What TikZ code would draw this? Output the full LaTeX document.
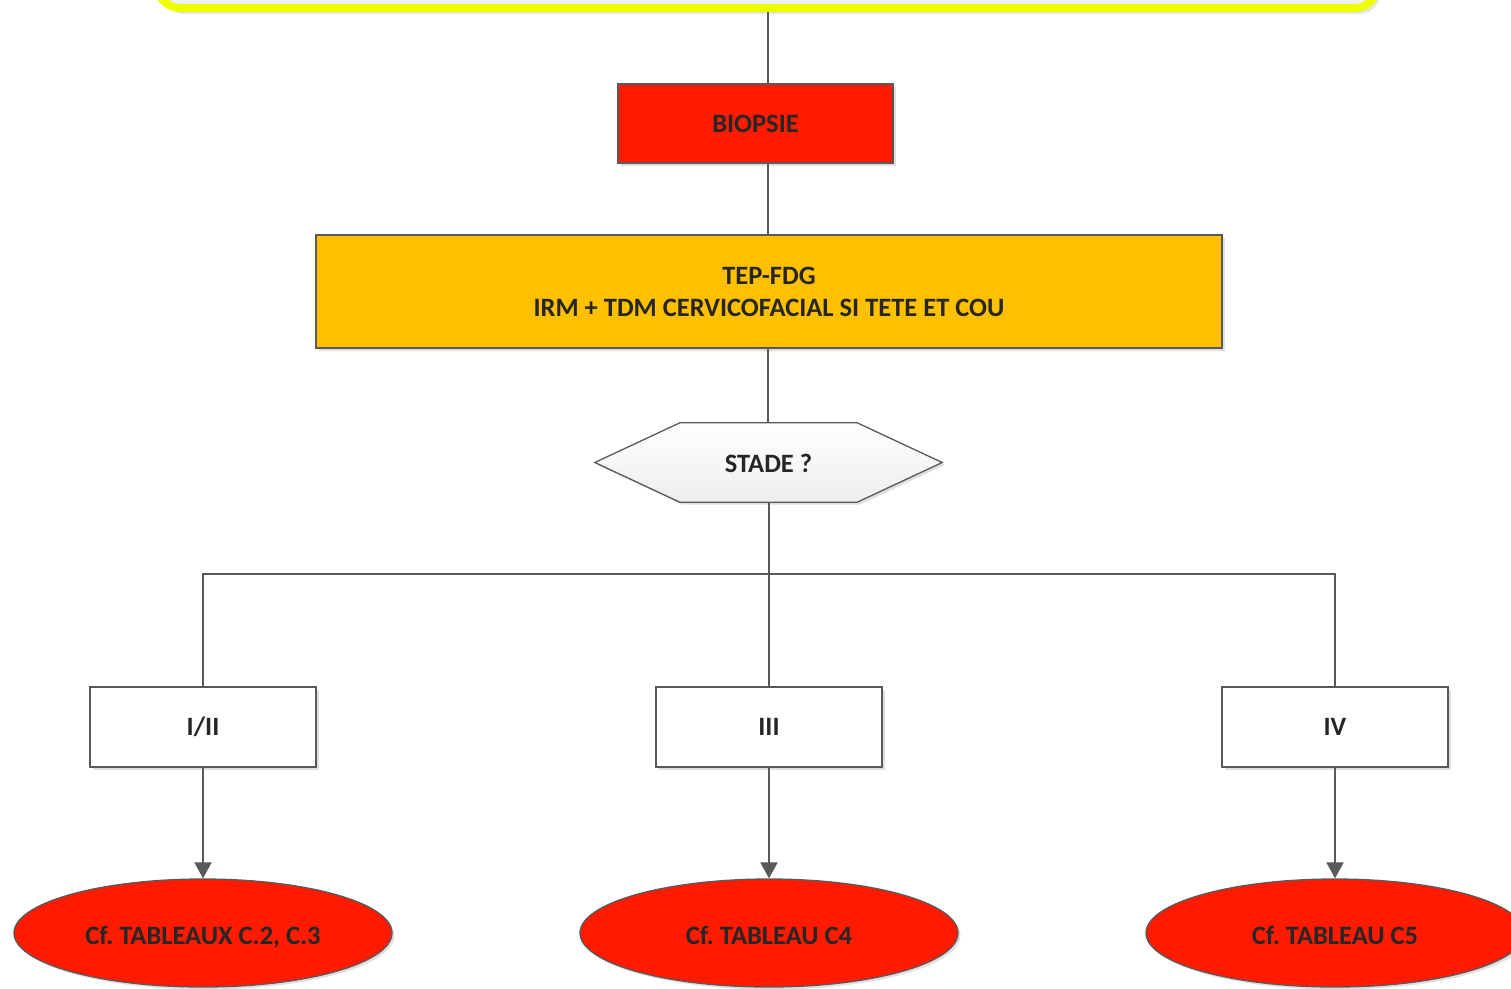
\documentclass[tikz,border=0pt]{standalone}
\usepackage{fontspec}
\setmainfont{Carlito}
\usetikzlibrary{shapes.geometric,arrows.meta,shadows}
\definecolor{redfill}{HTML}{FF1A00}
\definecolor{orangefill}{HTML}{FFC000}
\definecolor{bordergray}{HTML}{595959}
\definecolor{txt}{HTML}{262626}
\definecolor{yellowline}{HTML}{EEFF00}
\begin{document}
\frenchspacing
\begin{tikzpicture}[x=1pt,y=-1pt,
  every node/.style={font=\fontsize{26.5}{32}\selectfont\bfseries, text=txt},
  sh/.style={drop shadow={shadow xshift=2.5pt,shadow yshift=-2.5pt,opacity=0.25,fill=gray}},
  boxnode/.style={draw=bordergray, line width=1.3pt, rectangle, inner sep=0pt, sh},
  oval/.style={draw=bordergray, line width=1.3pt, ellipse, fill=redfill, minimum width=378pt, minimum height=108pt, inner sep=0pt, text height=23pt, text depth=0pt, sh},
  conn/.style={draw=bordergray, line width=2pt},
  arr/.style={conn, -{Triangle[width=17pt,length=16pt]}}
]
\useasboundingbox (0,0) rectangle (1511,988);
% top box (cut off)
\fill[gray, opacity=0.2, rounded corners=22pt] (162,-80) rectangle (1381,14);
\draw[yellowline, line width=8pt, fill=gray!12, rounded corners=22pt] (158,-80) rectangle (1377,8);
\coordinate (yb) at (768,12);

\node[boxnode, fill=redfill, minimum width=275pt, minimum height=79pt] (biopsie) at (755.5,123.5) {BIOPSIE};
\node[boxnode, fill=orangefill, minimum width=906pt, minimum height=113pt, align=center] (tep) at (769,291.5) {TEP-FDG\\IRM + TDM CERVICOFACIAL SI TETE ET COU};

\node[minimum width=347pt, minimum height=79pt, inner sep=0pt] (stade) at (768.5,462.5) {};
\fill[gray, opacity=0.25] ([shift={(2.5,2.5)}]stade.west) -- ([shift={(87.5,2.5)}]stade.north west) -- ([shift={(-82.5,2.5)}]stade.north east) -- ([shift={(2.5,2.5)}]stade.east) -- ([shift={(-82.5,2.5)}]stade.south east) -- ([shift={(87.5,2.5)}]stade.south west) -- cycle;
\draw[bordergray, line width=1.3pt, top color=white, bottom color=gray!14]
  (stade.west) -- ([xshift=85pt]stade.north west) -- ([xshift=-85pt]stade.north east) -- (stade.east) -- ([xshift=-85pt]stade.south east) -- ([xshift=85pt]stade.south west) -- cycle;
\node at ([yshift=-1pt]stade.center) {STADE ?};

\coordinate (hub) at (768.5,574);
\node[boxnode, fill=white, minimum width=226pt, minimum height=80pt] (s12) at (203,727) {I/II};
\node[boxnode, fill=white, minimum width=226pt, minimum height=80pt] (s3) at (769,727) {III};
\node[boxnode, fill=white, minimum width=226pt, minimum height=80pt] (s4) at (1335,727) {IV};

\node[oval] (e12) at (203,933) {Cf. TABLEAUX C.2, C.3};
\node[oval] (e3) at (769,933) {Cf. TABLEAU C4};
\node[oval] (e4) at (1335,933) {Cf. TABLEAU C5};

\draw[conn] (yb) -- (yb |- biopsie.north);
\draw[conn] (biopsie.south -| yb) -- (tep.north -| yb);
\draw[conn] (tep.south -| yb) -- (stade.north -| yb);
\draw[conn] (stade.south) -- (hub);
\draw[conn] (s12.north) -- (s12.north |- hub) -- (s4.north |- hub) -- (s4.north);
\draw[conn] (hub) -- (s3.north -| hub);
\draw[arr] (s12.south) -- (e12.north);
\draw[arr] (s3.south) -- (e3.north);
\draw[arr] (s4.south) -- (e4.north);
\end{tikzpicture}
\end{document}
